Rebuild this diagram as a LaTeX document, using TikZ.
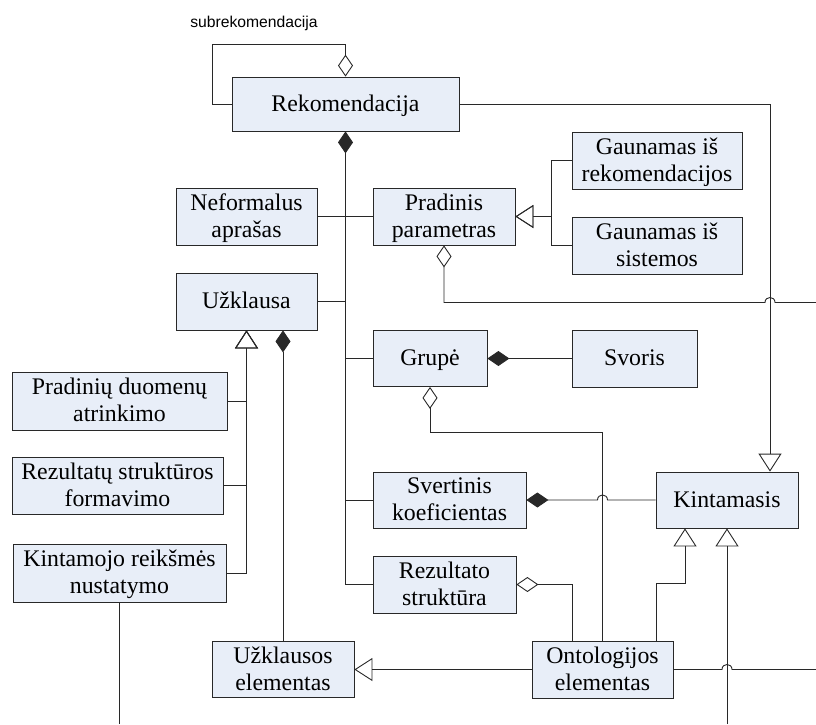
\documentclass[tikz,border=0pt]{standalone}
\usepackage{fontspec}
\setmainfont{Liberation Serif}
\newfontfamily\labelsans{Liberation Sans}
\usetikzlibrary{arrows.meta}
\definecolor{boxfill}{RGB}{232,238,248}
\definecolor{ink}{RGB}{40,40,40}
% struts that give every class name the same vertical placement
\newcommand\clsTop{\rule{0pt}{20pt}}
\newcommand\clsBot{\rule[-6pt]{0pt}{6pt}}
\begin{document}
\begin{tikzpicture}[x=1pt, y=-1pt,
  cls/.style={draw=ink, line width=0.8pt, fill=boxfill, inner sep=0pt,
    align=center, font=\fontsize{23.8}{27}\selectfont},
  conn/.style={draw=ink, line width=0.9pt},
  gen/.style={conn, -{Triangle[open, length=18pt, width=23pt]}},
  compo/.style={conn, {Diamond[length=22pt, width=15pt]}-},
  aggr/.style={conn, {Diamond[open, length=22pt, width=15pt]}-},
  rolelabel/.style={font=\labelsans\fontsize{15.7}{18}\selectfont, inner sep=0pt}]

\useasboundingbox (0,0) rectangle (816,724);

% classes
\node[cls, minimum width=227pt, minimum height=54pt] (rek)    at (345.5,104)   {\clsTop Rekomendacija\clsBot};
\node[cls, minimum width=141pt, minimum height=57pt] (nef)    at (246.5,216.5) {\clsTop Neformalus\\aprašas\clsBot};
\node[cls, minimum width=142pt, minimum height=57pt] (prad)   at (444,216.5)   {\clsTop Pradinis\\parametras\clsBot};
\node[cls, minimum width=170pt, minimum height=57pt] (gRek)   at (657,160.5)   {\clsTop Gaunamas iš\\rekomendacijos\clsBot};
\node[cls, minimum width=170pt, minimum height=57pt] (gSis)   at (657,245.5)   {\clsTop Gaunamas iš\\sistemos\clsBot};
\node[cls, minimum width=141pt, minimum height=57pt] (uzk)    at (246.5,301.5) {\clsTop Užklausa\clsBot};
\node[cls, minimum width=114pt, minimum height=56pt] (grupe)  at (430,358.5)   {\clsTop Grupė\clsBot};
\node[cls, minimum width=125pt, minimum height=57pt] (svoris) at (634.5,358.5) {\clsTop Svoris\clsBot};
\node[cls, minimum width=215pt, minimum height=58pt] (prDuom) at (119.5,401)   {\clsTop Pradinių duomenų\\atrinkimo\clsBot};
\node[cls, minimum width=211pt, minimum height=57pt] (rezStF) at (117.5,485.5) {\clsTop Rezultatų struktūros\\formavimo\clsBot};
\node[cls, minimum width=213pt, minimum height=58pt] (kintR)  at (119.5,573)   {\clsTop Kintamojo reikšmės\\nustatymo\clsBot};
\node[cls, minimum width=153pt, minimum height=56pt] (svert)  at (449.5,500)   {\clsTop Svertinis\\koeficientas\clsBot};
\node[cls, minimum width=142pt, minimum height=56pt] (kint)   at (727,500)     {\clsTop Kintamasis\clsBot};
\node[cls, minimum width=143pt, minimum height=57pt] (rezS)   at (444.5,584.5) {\clsTop Rezultato\\struktūra\clsBot};
\node[cls, minimum width=142pt, minimum height=56pt] (uzkEl)  at (283,669.5)   {\clsTop Užklausos\\elementas\clsBot};
\node[cls, minimum width=141pt, minimum height=57pt] (ont)    at (602.5,669.5) {\clsTop Ontologijos\\elementas\clsBot};

% role label of the self association
\node[rolelabel] (sublbl) at (254,23) {subrekomendacija};

% free ends running off the drawing
\coordinate (offA) at (816,302.5);
\coordinate (offB) at (816,669.5);
\coordinate (offC) at (727,724);
\coordinate (offD) at (119.5,724);

% self aggregation of Rekomendacija
\draw[aggr] (rek.north) -- ++(0,-32) -| (212,104) -- (rek.west);

% Rekomendacija generalises to Kintamasis
\draw[gen] (rek.east) -| ([xshift=43pt]kint.north);

% composition trunk of Rekomendacija
\draw[compo] (rek.south) |- (rezS.west);
\draw[conn] (nef.east) -- (prad.west);
\draw[conn] (uzk.east) -- (uzk.east -| rek.south);
\draw[conn] (grupe.west) -- (grupe.west -| rek.south);
\draw[conn] (svert.west) -- (svert.west -| rek.south);

% kinds of Pradinis parametras
\draw[gen] (gRek.west) -- ++(-20,0) |- (prad.east);
\draw[gen] (gSis.west) -- ++(-20,0) |- (prad.east);

% Pradinis parametras aggregation, hopping over the vertical line
\draw[aggr] (prad.south) |- (765,302.5)
  .. controls (765,295.8) and (775,295.8) .. (775,302.5) -- (offA);

% Grupe
\draw[compo] (grupe.east) -- (svoris.west);
\draw[aggr] (grupe.south) -- ++(0,46) -| (ont.north);

% Svertinis koeficientas to Kintamasis, hopping over the vertical line
\draw[compo] (svert.east) -- (597.5,500)
  .. controls (597.5,493.3) and (607.5,493.3) .. (607.5,500) -- (kint.west);

% Rezultato struktura
\draw[aggr] (rezS.east) -| ([xshift=-30.5pt]ont.north);

% Ontologijos elementas
\draw[gen] ([xshift=53.5pt]ont.north) -- ++(0,-57) -| ([xshift=-42pt]kint.south);
\draw[gen] (ont.west) -- (uzkEl.east);
\draw[conn] (ont.east) -- (722,669.5)
  .. controls (722,662.8) and (732,662.8) .. (732,669.5) -- (offB);
\draw[gen] (offC) -- (kint.south);

% kinds of Uzklausa
\draw[gen] (prDuom.east) -| (uzk.south);
\draw[gen] (rezStF.east) -| (uzk.south);
\draw[gen] (kintR.east) -| (uzk.south);
\draw[compo] ([xshift=36.5pt]uzk.south) -- (uzkEl.north);
\draw[conn] (kintR.south) -- (offD);

\end{tikzpicture}
\end{document}
